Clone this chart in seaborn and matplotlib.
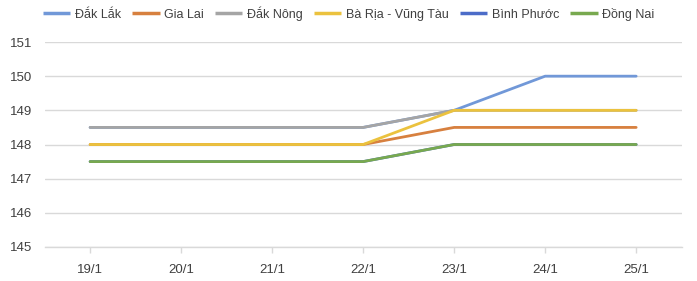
import matplotlib
matplotlib.use("Agg")
import matplotlib.pyplot as plt
import seaborn as sns
import pandas as pd

dates = ["19/1", "20/1", "21/1", "22/1", "23/1", "24/1", "25/1"]
dak_lak = [148.5, 148.5, 148.5, 148.5, 149, 150, 150]
gia_lai = [148, 148, 148, 148, 148.5, 148.5, 148.5]
dak_nong = [148.5, 148.5, 148.5, 148.5, 149, 149, 149]
ba_ria = [148, 148, 148, 148, 149, 149, 149]
binh_phuoc = [147.5, 147.5, 147.5, 147.5, 148, 148, 148]
dong_nai = [147.5, 147.5, 147.5, 147.5, 148, 148, 148]

series_names = ["Đắk Lắk", "Gia Lai", "Đắk Nông", "Bà Rịa - Vũng Tàu", "Bình Phước", "Đồng Nai"]
series_values = [dak_lak, gia_lai, dak_nong, ba_ria, binh_phuoc, dong_nai]
colors = ["#7198D8", "#D7803F", "#A5A5A5", "#EBC23E", "#4C6CC8", "#78A94F"]

rows = []
for name, vals in zip(series_names, series_values):
    for i, (d, v) in enumerate(zip(dates, vals)):
        rows.append({"date": d, "idx": i, "value": v, "series": name})
df = pd.DataFrame(rows)

sns.set_theme(style="white")
plt.rcParams['font.family'] = ['Liberation Sans', 'DejaVu Sans']

fig = plt.figure(figsize=(6.97, 2.81), dpi=100)
ax = fig.add_axes([0.064, 0.121, 0.914, 0.7295])

sns.lineplot(data=df, x="idx", y="value", hue="series", hue_order=series_names,
             palette=colors, linewidth=2.0, ax=ax, legend=True, sort=False)

ax.set_xlim(-0.5, 6.5)
ax.set_ylim(145, 151)
ax.set_yticks(range(145, 152))
ax.set_yticklabels([str(v) for v in range(145, 152)], fontsize=9.5, color="#404040")
ax.set_xticks(range(len(dates)))
ax.set_xticklabels(dates, fontsize=9.5, color="#404040")
ax.set_xlabel("")
ax.set_ylabel("")
ax.yaxis.grid(True, color="#D9D9D9", linewidth=1.0)
ax.set_axisbelow(True)
for s in ["top", "right", "left"]:
    ax.spines[s].set_visible(False)
ax.spines["bottom"].set_color("#D9D9D9")
ax.spines["bottom"].set_linewidth(1.0)
ax.tick_params(axis="y", length=0, pad=9)
ax.tick_params(axis="x", length=4, color="#D9D9D9", width=1, pad=8, direction="out", bottom=True)

handles, labels = ax.get_legend_handles_labels()
leg = ax.legend(handles, labels, loc="upper center", bbox_to_anchor=(0.5, 1.0), bbox_transform=fig.transFigure,
                ncol=6, frameon=False, fontsize=9, handlelength=2.2, handletextpad=0.35,
                columnspacing=0.9, borderaxespad=0.1)
for t in leg.get_texts():
    t.set_color("#404040")
for h in leg.get_lines():
    h.set_linewidth(2.5)
    h.set_solid_capstyle("butt")

fig.savefig("out.png", dpi=100)
